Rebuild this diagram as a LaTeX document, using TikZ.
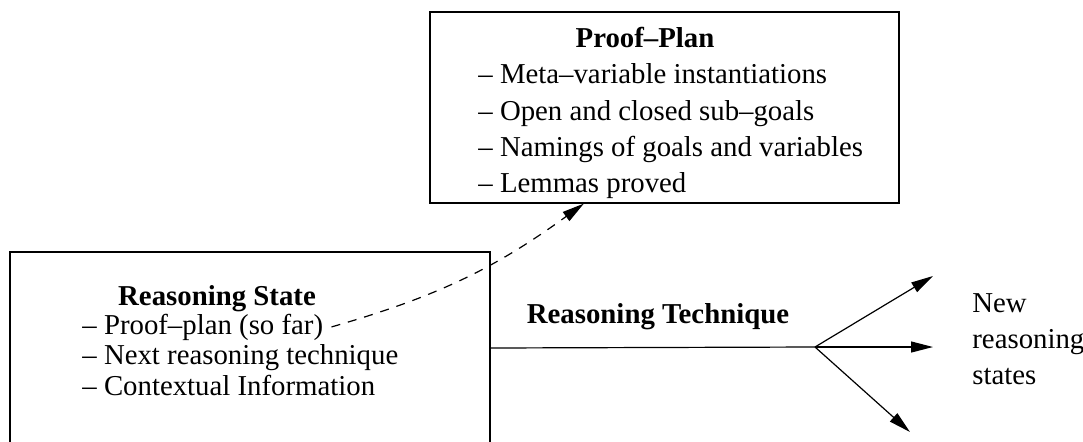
\documentclass[tikz,border=0pt]{standalone}
\usepackage{fontspec}
\setmainfont{Liberation Serif}
\usetikzlibrary{arrows.meta}

\tikzset{mybox/.style={draw, line width=0.6pt, inner sep=0pt},
         mytext/.style={inner sep=0pt, font=\fontsize{14.4}{18}\selectfont},
         mytitle/.style={mytext, font=\fontsize{14.4}{18}\selectfont\bfseries},
         myarrow/.style={line width=0.6pt, -{Triangle[length=11pt,width=5.5pt]}}}

\begin{document}
\begin{tikzpicture}[x=0.5pt,y=-0.5pt]

\useasboundingbox (0,0) rectangle (1083,441);
\clip (0,0) rectangle (1083,441);

% proof plan
\node[mybox, minimum width=234.5pt, minimum height=95.5pt] (plan) at (664.5,107.5) {};
\node[mytitle, anchor=base] (plantitle) at (645,47) {Proof–Plan};
\node[mytext, anchor=base west] (meta) at (478,83) {– Meta–variable instantiations};
\node[mytext, anchor=base west] (goals) at (478,120) {– Open and closed sub–goals};
\node[mytext, anchor=base west] (names) at (478,156) {– Namings of goals and variables};
\node[mytext, anchor=base west] (lemmas) at (478,192) {– Lemmas proved};

% reasoning state
\node[mybox, minimum width=240pt, minimum height=96pt] (state) at (250,348) {};
\node[mytitle, anchor=base] (statetitle) at (217,305) {Reasoning State};
\node[mytext, anchor=base west] (sofar) at (82,334) {– Proof–plan (so far)};
\node[mytext, anchor=base west] (next) at (82,364) {– Next reasoning technique};
\node[mytext, anchor=base west] (context) at (82,395) {– Contextual Information};

% technique and new states
\coordinate (fork) at (815,347);
\coordinate (upper) at (933,276);
\coordinate (middle) at (933,347);
\coordinate (lower) at (910,432);
\node[mytitle, anchor=base] (technique) at (658,323) {Reasoning Technique};
\node[mytext, anchor=west, align=left] (newstates) at (972,339) {New\\reasoning\\states};

% connectors
\draw[line width=0.6pt] (state.east) -- (fork);
\draw[myarrow] (fork) -- (upper);
\draw[myarrow] (fork) -- (middle);
\draw[myarrow] (fork) -- (lower);
\draw[myarrow, dash pattern=on 4.5pt off 4pt] ([xshift=4pt]sofar.east) to[bend right=10] (plan.230.6);

\end{tikzpicture}
\end{document}
